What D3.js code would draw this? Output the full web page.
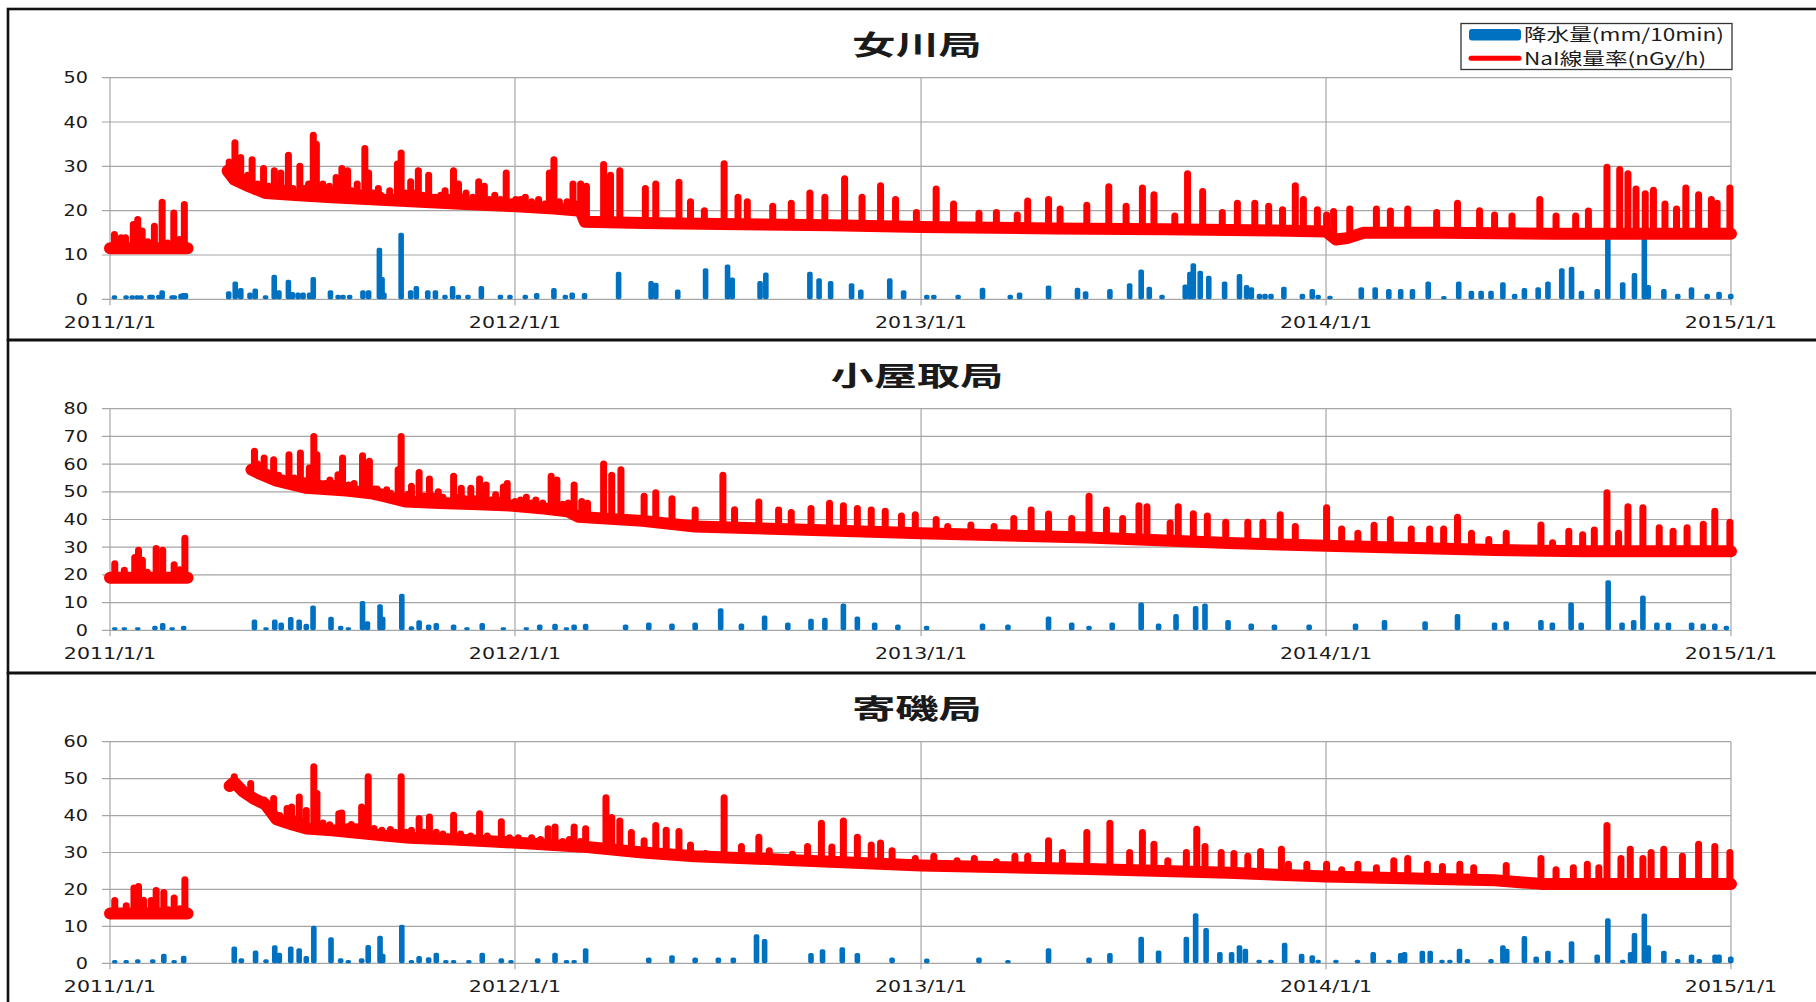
<!DOCTYPE html>
<html lang="ja">
<head>
<meta charset="utf-8">
<script src="https://cdn.jsdelivr.net/npm/d3@7"></script>
<style>
  body { margin: 0; background: #fff; }
  svg { display: block; }
</style>
</head>
<body>
<div id="chart"></div>
<script>
// stations from top to bottom
const stations = ['女川局', '小屋取局', '寄磯局']
const yMaxes = [50, 80, 60]
const xTickLabels = ['2011/1/1', '2012/1/1', '2013/1/1', '2014/1/1', '2015/1/1']
const legendLabels = ['降水量(mm/10min)', 'NaI線量率(nGy/h)']

// All series: [days since 2011/1/1, value]
// base level of the NaI dose rate (nGy/h), null = gap in the record
const onagawaBase = [[0,11.5],[69.9,11.5],[88,null],[106,29],[112,27],[125,25.5],[140,24],[170,23.5],[200,23],[240,22.5],[280,22],[320,21.5],[366,21],[400,20.5],[424,20],[428,17.5],[480,17.2],[550,17],[650,16.7],[731,16.3],[850,16],[950,15.8],[1050,15.5],[1096,15.3],[1105,13.5],[1115,13.8],[1130,15],[1200,15],[1300,14.8],[1400,14.8],[1461,14.8]]
// rain-related peaks of the dose rate
const onagawaPeaks = [[4,14.6],[10,13.9],[14,13.9],[21,16.9],[25,18],[29,15.4],[34,13],[40,16.5],[47,21.9],[52,12.7],[57.5,19.5],[62.5,13.5],[67,21.4],
  [107.4,31],[112.6,35.3],[117.8,32],[128.1,31.5],[138.4,29.5],[148.1,29],[154,28.5],[160.8,32.5],[171.1,30],[183.2,37],[186,35],[191.8,26],[197.7,25.5],[203.8,27.5],[209,29.5],[214.2,29],[222.8,26],[229.7,34],[233.1,28.5],[241.8,25],[246.9,23],[252.1,24.5],[259,30.5],[262.4,33],[271,26.5],[277.9,29],[287.2,28],[293.4,23],[302,24.5],[309.6,29],[314.1,26],[320.9,24],[332.3,26.5],[337.4,25.5],[346.8,23.5],[357.1,28.5],[365.7,22.5],[374.3,23],[386.3,22.5],[396,28.5],[400.1,31.5],[417.3,26],[424.2,26],[429.4,25.5],
  [110,28],[115,29],[121,27.5],[124,28],[133,26],[143,25.5],[151,26],[157,25],[165,25],[175,25],[179,26],[189,25],[194,24.5],[201,24.5],[206,25.5],[212,25],[218,24.5],[226,24],[237,24],[244,23.5],[255,23],[266,24],[274,24],[282,23.5],[290,23],[298,23.5],[305,23],[318,23],[327,23],[342,22.5],[352,22.5],[362,22],[370,22.5],[380,22],[392,21.5],[405,22],[412,22],[420,21.5],
  [444.9,30.4],[451.1,28],[459.5,29],[482.5,25],[491.9,26],[512.8,26.4],[523.2,22],[535.7,20],[553.5,30.6],[566,23],[574.4,22],[597.3,21],[614,21.7],[630.8,24],[644.3,23],[662.1,27.2],[677.8,23],[694.5,25.6],[708,22.5],[726.8,19.6],[744.6,24.9],[760.3,21.5],[783.2,19.4],[798.9,19.6],[817.7,19],[827.1,22.2],[845.9,22.5],[856.3,20.4],[880.4,21.2],[900.2,25.4],[915.8,21],[930.5,25.1],[940.9,23.6],[959.7,18.8],[971.2,28.3],[984.8,24.3],[1002.5,19.6],[1016.1,21.7],[1031.8,21.7],[1044.3,21],[1056.8,20.2],[1068.3,25.6],[1075.6,22.5],[1088.2,20.2],[1096.5,19],[1102.8,19.8],[1117.4,20.4],[1141.4,20.4],[1154,19.9],[1169.6,20.4],[1195.7,19.6],[1214.5,21.7],[1234.4,20],[1247.9,19],[1263.6,18.8],[1288.7,22.5],[1303.3,18.8],[1321,18.8],[1332.5,19.9],[1349.2,29.8],[1360.7,29.3],[1368.1,28.3],[1375.4,24.9],[1383.7,23.8],[1391.1,24.6],[1401.5,21.5],[1411.9,20.4],[1420.3,25.1],[1431.8,23.6],[1443.3,22.5],[1448.5,21.7],[1460,25.1]]
// precipitation (mm/10min)
const onagawaRain = [[4,0.7],[14.5,0.7],[20,0.7],[24.4,0.7],[28,0.7],[36,0.8],[38,0.8],[44,0.8],[47,1.8],[56,0.7],[58,0.7],[64,1],[66,1.2],[68,1.2],
  [107,1.6],[112.9,3.8],[117.9,2.3],[126.2,1.3],[130.9,2.2],[140.2,0.7],[148,5.3],[152.2,1.8],[160.8,4.2],[164.4,1.4],[169.5,1.3],[174,1.3],[179.9,1.3],[183.2,4.8],[198.7,1.8],[205.6,0.8],[210,0.8],[216,0.8],[228,1.8],[233.1,1.8],[242.8,11.4],[245.2,4.8],[246.9,1.3],[262.4,14.8],[271,1.8],[276.1,2.8],[286.4,1.8],[293.3,1.8],[301.9,0.8],[308.8,2.8],[314,0.8],[322.6,0.8],[334.7,2.8],[351.9,0.8],[360.5,0.8],[374.3,0.8],[384.6,1.2],[400.1,2.3],[410.4,0.8],[416.6,1.3],[427.7,1.2],
  [458.4,6],[487.7,3.9],[491.9,3.5],[511.7,2],[536.8,6.8],[556.6,7.6],[560.8,4.7],[585.9,3.9],[591.1,5.8],[630.8,6],[639.1,4.5],[649.5,3.9],[668.4,3.4],[676.7,2],[702.8,4.5],[715.3,1.8],[736.2,0.8],[742.5,0.8],[764.4,0.8],[786.4,2.4],[811.4,0.8],[819.8,1.3],[845.9,2.9],[872,2.4],[879.3,1.6],[901.2,2.1],[919,3.4],[929.4,6.5],[936.7,2.6],[948.2,0.8],[969.1,3.1],[973.3,6],[976.4,7.9],
  [982.6,6.2],[990.3,5.1],[1004.6,3.8],[1018,5.5],[1024.4,3],[1028.7,2.5],[1036,1],[1041,1],[1046.4,1],[1058,2.6],[1074.7,1],[1083.6,2.1],[1088.9,0.8],[1099.5,0.6],[1127.8,2.5],[1140.3,2.5],[1152.6,2.1],[1163.3,2.1],[1173.9,2.1],[1188.1,3.8],[1202.2,0.5],[1215.6,3.8],[1227,1.7],[1235.8,1.7],[1244.7,1.7],[1255.4,3.6],[1266,1],[1274.8,2.3],[1287.2,2.5],[1296,3.8],[1308.5,6.8],[1317.3,7.1],[1326.2,1.7],[1340.4,2.1],[1350,14],[1363.4,3.6],[1374,5.7],[1382.9,14],[1386.4,3],[1400.5,2.1],[1413,1],[1425.4,2.5],[1439.5,1],[1450.2,1.5],[1460.8,1]]

const koyatoriBase = [[0,19],[69.9,19],[95,null],[127.5,58],[135,56.5],[150,54],[176,51.5],[213,50.5],[235,49.5],[246,48.5],[266,46.5],[297,46],[332,45.5],[363,45],[391,44],[412,43],[422,41],[440,40.5],[480,39.5],[527,37.5],[611,36.5],[731,35],[882,33.5],[1008,31.5],[1096,30.5],[1248,29],[1330,28.5],[1400,28.5],[1461,28.5]]
const koyatoriPeaks = [[4.3,24],[12.9,21.7],[22.3,26.3],[25.7,28.9],[29.2,25.3],[33.6,21],[41.6,29.5],[47.5,28.9],[57.8,23.7],[63,21.9],[67.5,33.2],
  [130.2,64.6],[138.9,62.2],[147.5,61.6],[161.3,63.4],[171.6,64],[179.6,58.6],[183.7,70],[186.5,63.4],[198.2,54.3],[205.5,56.2],[209.6,62.2],[227.6,63],[233.8,61],[240.7,51],[249.3,50.7],[259.7,58],[262.4,70],[271.7,52],[278.6,57],[287.9,54.6],[295.9,50],[309.7,55.6],[316.6,51.3],[325.2,51.3],[333.1,54.6],[339,52.5],[347.6,48.9],[354.5,51.7],[358,53],[375.2,48],[383.8,47],[397.6,55.6],[402.8,54.3],[418.3,52.5],[425.2,46.5],[430.4,45.9],
  [133,60],[142,57],[152,56],[156,55],[166,55],[175,54],[190,53],[194,53],[202,53],[215,52.5],[220,53],[238,51],[244,50],[253,49.5],[268,49],[283,48.5],[291,48.5],[300,48],[312,48],[320,47.5],[329,47.5],[344,47],[350,47],[365,46.5],[370,47],[380,46],[390,46],[408,45.5],[413,46],
  [444.9,60],[452.2,56],[460.5,58],[481.4,48.4],[491.9,49.7],[506.5,47.5],[527.4,43.4],[552.4,56],[562.9,43.5],[584.8,46.3],[602.6,43.4],[614,42.5],[631.8,44],[648.5,45.9],[661,45],[673.6,44],[686.1,43.4],[698.7,43],[713.3,41.3],[725.8,41.7],[744.6,40],[755,37.5],[775.9,38],[796.8,37.5],[814.6,40.4],[830.2,43.4],[845.9,42],[866.8,40.4],[882.4,48.4],[898.1,43.4],[912.7,40.4],[927.4,45],[934.6,44.6],[955.5,38.7],[962.8,44.6],[976.4,42.1],[989,41.3],[1005.6,39],[1025.5,39],[1039.1,39],[1054.7,41.7],[1068.3,37.5],[1096.5,44.2],[1110.1,36.6],[1124.7,35],[1139.3,37.9],[1154,40],[1172.8,36.6],[1189.4,36.6],[1202,36.6],[1214.5,40.8],[1227.1,35],[1242.7,32.8],[1258.4,35],[1289.7,38],[1300.2,31.6],[1314.8,35.8],[1327.3,34.5],[1337.8,36.2],[1349.2,49.7],[1359.7,35],[1368.1,44.6],[1381.6,44.2],[1396.3,37],[1408.8,35.8],[1421.4,37],[1436,38.3],[1446.4,43],[1460,39]]
const koyatoriRain = [[4.3,0.7],[12.9,0.7],[25,0.7],[40.5,1.3],[47.5,2.3],[56,0.7],[66.4,1.3],
  [130.2,3.5],[140.6,0.7],[148.5,3.5],[154.3,2.5],[162.9,4.4],[170.5,3.5],[176.9,2],[183,8.6],[199.2,4.5],[207.9,1.3],[214.8,0.7],[227.6,10.2],[232,2.9],[243.4,9],[245.8,4.5],[263,12.8],[271.7,1.1],[278.6,3.3],[287.2,1.7],[294.1,2.3],[309.7,1.7],[321.7,0.7],[335.5,2.3],[354.5,0.7],[375.2,0.7],[387.3,1.7],[401.1,2],[411.4,0.7],[418.3,1.7],[428.7,2],
  [464.7,1.7],[485.6,2.5],[506.5,2.1],[527.4,2.5],[550.4,7.6],[569.1,2.1],[590,5],[610.9,2.5],[631.8,3.8],[644.3,4.2],[661,9.3],[673.6,4.6],[689.2,2.5],[710.1,1.7],[736,1.3],[786.4,2.1],[809.3,1.7],[845.9,4.6],[866.8,2.5],[882.4,1.3],[903.3,2.5],[929.4,9.7],[945.1,2.1],[960.8,5.5],[978.5,8.4],[986.9,9.3],[1007.7,3.4],[1028.6,2.1],[1049.5,1.7],[1080.8,1.7],[1122.6,2.1],[1148.7,3.4],[1185.3,2.9],[1214.5,5.5],[1247.9,2.5],[1258.4,2.9],[1289.7,3.4],[1300,2.5],[1316.9,9.7],[1326,2.5],[1350.3,17.7],[1362.8,2.5],[1373.3,3.4],[1381.6,12.2],[1394.2,2.5],[1404.6,2.5],[1425.5,2.5],[1436,2.1],[1446.4,2.1],[1456.8,1.3]]

const yoriisoBase = [[0,13.5],[69.9,13.5],[88,null],[107.8,48],[112,49],[120,46.5],[130,44.5],[140,43],[150,39],[165,37.5],[177,36.5],[200,36],[218,35.5],[250,34.5],[270,34],[310,33.5],[345,33],[375,32.5],[400,32],[430,31.5],[480,30],[527,29],[611,28],[731,26.5],[882,25.5],[1008,24.5],[1096,23.5],[1248,22.5],[1290,21.5],[1330,21.5],[1400,21.5],[1461,21.5]]
const yoriisoPeaks = [[4.3,17],[14.6,15.6],[21.6,20.4],[25.7,20.8],[30.2,17.1],[37.1,17],[41.6,19.7],[48.5,19.2],[52.6,14.5],[57.8,17.7],[63,14.8],[67.5,22.6],
  [112,50.5],[126.8,48.7],[138.9,44.2],[147.5,44.6],[159.6,41.9],[163.7,42.3],[170.6,45],[176.9,41.4],[183.7,53.2],[186.5,46],[206.2,40.5],[208.9,40.7],[217.5,37.6],[226.8,42.3],[232.7,50.5],[252.7,36.2],[262.4,50.5],[271.7,36],[278.6,39.2],[287.9,39.6],[309.7,40.1],[333.1,40.5],[352.7,38.3],[394.9,36.4],[401.1,36.9],[418.3,36.9],[428.7,36.4],
  [116,48],[123,46],[131,45],[135,44],[143,42],[153,40],[168,39],[174,38.5],[192,38],[198,37.5],[214,37],[222,37],[238,36.5],[245,36],[257,35.5],[267,35.5],[283,35.5],[294,35.5],[300,35],[316,35],[325,34.5],[340,34.5],[360,34],[368,34],[380,34],[388,33.5],[408,33],[414,33.5],[424,33],
  [447,44.8],[452.2,39.5],[459.5,38.5],[469.9,35.4],[481.4,33.2],[491.9,37.3],[501.3,36],[512.8,35.7],[523.2,32],[536.8,29.7],[553.5,44.8],[569.1,31.6],[584.8,34.1],[594.2,30.5],[615.1,29.5],[628.7,31.6],[641.2,37.9],[650.6,31.5],[661,38.5],[673.6,34.1],[686.1,32],[694.5,32.6],[704.9,30.5],[725.8,28.4],[742.5,29],[763.4,27.8],[779,28.4],[798.9,27.5],[815.6,29],[827.1,29],[845.9,33.2],[858.4,30],[880.4,35.4],[901.2,37.9],[919,30],[930.5,35.4],[940.9,32.2],[953.4,27.8],[970.1,30],[979.5,36.3],[986.9,31.6],[1001.5,30],[1013,29.7],[1025.5,29],[1037,30.3],[1055.8,30.9],[1062.1,26.8],[1078.7,26.8],[1096.5,26.8],[1110.1,25.3],[1124.7,26.8],[1141.4,25.9],[1157.1,27.8],[1169.6,28.4],[1187.3,26.8],[1200.9,26.2],[1216.6,26.8],[1229.1,25.9],[1258.4,26.5],[1289.7,28.4],[1303.3,25.3],[1318.9,25.9],[1331.5,26.8],[1341.9,25.9],[1349.2,37.3],[1361.8,28.4],[1370.2,30.9],[1381.6,28.4],[1389,30],[1400.4,30.9],[1417.2,29],[1431.8,32.2],[1446.4,31.6],[1460,30]]
const yoriisoRain = [[4.3,0.6],[14.6,0.6],[25,0.8],[38.5,0.8],[48.5,2.3],[57.8,0.6],[66.4,1.8],
  [112,4.3],[118.4,1.1],[131.2,3.2],[140.6,0.8],[148.5,4.6],[152.6,2.6],[162.9,4.3],[170.5,3.8],[176.9,1.7],[183.7,9.9],[199.2,6.8],[207.9,1.1],[214.8,0.6],[226.8,1.1],[232.7,4.7],[243.4,7.2],[245.8,2.3],[263,10.2],[271.7,0.6],[278.6,1.7],[287.2,1.4],[294.1,2.6],[302.7,0.6],[309.7,0.6],[323.4,0.6],[335.5,2.6],[352.7,1.1],[361.4,0.6],[385.5,1.1],[401.1,2.6],[411.4,0.6],[418.3,0.6],[428.7,3.8],
  [485.6,1.3],[506.5,1.9],[527.4,1.3],[548.3,1.3],[561.8,1.3],[582.7,7.6],[590,6.3],[631.8,2.5],[642.2,3.5],[660,4.1],[673.6,2.5],[704.9,1.3],[736.2,1],[783.2,1.3],[809.3,0.6],[845.9,3.8],[882.4,1.3],[901.2,2.5],[929.4,6.9],[945.1,3.2],[970.1,6.9],[978.5,13.3],[987.9,9.3],
  [1000.3,2.8],[1010.9,2.8],[1018,4.6],[1023.3,3.7],[1035.7,0.7],[1046.4,0.7],[1058.7,5.3],[1074,2.3],[1083.6,1.9],[1088.9,0.7],[1104.9,0.7],[1124.4,0.7],[1138.5,2.8],[1152.6,0.7],[1163.3,2.5],[1166.8,2.8],[1182.8,3.1],[1189.9,3.1],[1200.5,0.7],[1207.6,0.7],[1216.3,3.7],[1223.4,0.9],[1244.7,0.9],[1255.4,4.6],[1258.9,3.7],[1274.8,7.1],[1285.4,1.6],[1296,3.1],[1307.7,0.7],[1317.3,5.7],[1340.4,2.1],[1350,11.9],[1363.4,0.7],[1370.5,2.8],[1374,7.9],[1382.9,13.2],[1386.4,4.6],[1400.5,3.1],[1413,0.9],[1425.4,2.1],[1432.4,0.9],[1446.6,2.1],[1450.2,2.1],[1460.8,1.6]]

const baseSeries = [onagawaBase, koyatoriBase, yoriisoBase]
const peakSeries = [onagawaPeaks, koyatoriPeaks, yoriisoPeaks]
const rainSeries = [onagawaRain, koyatoriRain, yoriisoRain]

// ---- layout ----
const w = 1816
const h = 1002
const panelTops = [9, 340, 673]
const panelH = [331, 333, 335]
const plotLeft = 110
const plotRight = 1731
const plotTopOff = 68.7
const plotBottomOff = 290.3
const textScale = 1.37
const red = '#ff0000'
const blue = '#0070c0'
const gridColor = '#a6a6a6'

const origin = Date.UTC(2011, 0, 1)
const parseTick = d3.utcParse('%Y/%m/%d')
function dayToDate(d) { return new Date(origin + d * 864e5) }

let x = d3.scaleUtc()
          .domain([parseTick(xTickLabels[0]), parseTick(xTickLabels[xTickLabels.length - 1])])
          .range([plotLeft, plotRight])

let svg = d3.select('#chart')
            .append('svg')
            .attr('width', w)
            .attr('height', h)

svg.append('rect').attr('width', w).attr('height', h).attr('fill', '#fff')

// text stretched sideways like the source picture
function addText(g, tx, ty, str, size, anchor, sx, family, weight) {
  return g.append('text')
          .attr('transform', 'translate(' + tx + ',' + ty + ') scale(' + sx + ',1)')
          .attr('text-anchor', anchor)
          .attr('font-family', family)
          .attr('font-size', size)
          .attr('font-weight', weight || 'normal')
          .attr('fill', '#1a1a1a')
          .text(str)
}

// base level at a given day, used as the foot of each peak
function baseAt(base, day) {
  let pts = base.filter(function(d) { return d[1] != null })
  let i = d3.bisector(function(d) { return d[0] }).left(pts, day)
  if (i <= 0) return pts[0][1]
  if (i >= pts.length) return pts[pts.length - 1][1]
  return d3.scaleLinear().domain([pts[i - 1][0], pts[i][0]]).range([pts[i - 1][1], pts[i][1]])(day)
}

stations.forEach(function(name, k) {
  let top = panelTops[k]
  let g = svg.append('g')

  let y = d3.scaleLinear()
            .domain([0, yMaxes[k]])
            .range([top + plotBottomOff, top + plotTopOff])

  let yTicks = d3.range(0, yMaxes[k] + 1, 10)

  // horizontal grid + left tick marks
  g.selectAll('line.hgrid')
    .data(yTicks)
    .enter()
    .append('line')
    .attr('x1', plotLeft - 8)
    .attr('x2', plotRight)
    .attr('y1', function(d) { return y(d) })
    .attr('y2', function(d) { return y(d) })
    .attr('stroke', gridColor)
    .attr('stroke-width', 1.2)

  // vertical grid at each year, running past the axis as a tick
  g.selectAll('line.vgrid')
    .data(xTickLabels)
    .enter()
    .append('line')
    .attr('x1', function(d) { return x(parseTick(d)) })
    .attr('x2', function(d) { return x(parseTick(d)) })
    .attr('y1', y(yMaxes[k]))
    .attr('y2', y(0) + 6)
    .attr('stroke', gridColor)
    .attr('stroke-width', 1.2)

  // precipitation
  g.selectAll('rect.rain')
    .data(rainSeries[k])
    .enter()
    .append('rect')
    .attr('x', function(d) { return x(dayToDate(d[0])) - 2.8 })
    .attr('y', function(d) { return y(d[1]) - 1 })
    .attr('width', 5.6)
    .attr('height', function(d) { return y(0) - y(d[1]) + 1 })
    .attr('rx', 2)
    .attr('fill', blue)

  // dose rate: base level
  let line = d3.line()
               .defined(function(d) { return d[1] != null })
               .x(function(d) { return x(dayToDate(d[0])) })
               .y(function(d) { return y(d[1]) })

  g.append('path')
    .datum(baseSeries[k])
    .attr('d', line)
    .attr('fill', 'none')
    .attr('stroke', red)
    .attr('stroke-width', 12)
    .attr('stroke-linejoin', 'round')
    .attr('stroke-linecap', 'round')

  // dose rate: peaks during rain
  g.selectAll('line.peak')
    .data(peakSeries[k])
    .enter()
    .append('line')
    .attr('x1', function(d) { return x(dayToDate(d[0])) })
    .attr('x2', function(d) { return x(dayToDate(d[0])) })
    .attr('y1', function(d) { return y(baseAt(baseSeries[k], d[0])) })
    .attr('y2', function(d) { return y(d[1]) })
    .attr('stroke', red)
    .attr('stroke-width', 7)
    .attr('stroke-linecap', 'round')

  // y labels
  yTicks.forEach(function(t) {
    addText(g, 88, y(t) + 5.5, t, 15, 'end', 1.28, 'DejaVu Sans')
  })

  // x labels
  xTickLabels.forEach(function(t) {
    addText(g, x(parseTick(t)), y(0) + 28.5, t, 15, 'middle', textScale, 'DejaVu Sans')
  })

  // title
  addText(g, 917, top + 46, name, 27, 'middle', 1.6, 'Noto Sans CJK JP', 'bold')

  // panel frame
  g.append('rect')
    .attr('x', 8)
    .attr('y', top)
    .attr('width', w + 20)
    .attr('height', panelH[k])
    .attr('fill', 'none')
    .attr('stroke', '#111')
    .attr('stroke-width', 2.6)
})

// legend (first panel only)
let lg = svg.append('g')
lg.append('rect')
  .attr('x', 1461).attr('y', 23.5).attr('width', 271).attr('height', 46)
  .attr('fill', '#fff').attr('stroke', '#333').attr('stroke-width', 1.3)
lg.append('rect')
  .attr('x', 1469).attr('y', 29).attr('width', 52).attr('height', 11.5).attr('rx', 3)
  .attr('fill', blue)
lg.append('line')
  .attr('x1', 1471).attr('x2', 1519).attr('y1', 58.3).attr('y2', 58.3)
  .attr('stroke', red).attr('stroke-width', 5).attr('stroke-linecap', 'round')
addText(lg, 1524, 41, legendLabels[0], 17, 'start', 1.33, 'Noto Sans CJK JP')
addText(lg, 1524, 65, legendLabels[1], 17, 'start', 1.33, 'Noto Sans CJK JP')
</script>
</body>
</html>
